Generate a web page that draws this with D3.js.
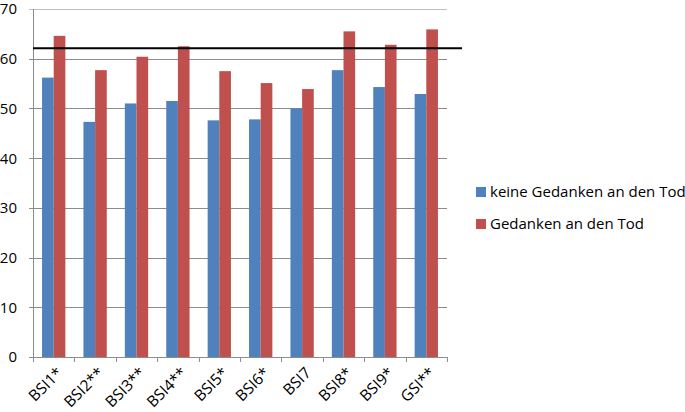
<!DOCTYPE html>
<html>
<head>
<meta charset="utf-8">
<script src="https://cdn.jsdelivr.net/npm/d3@7"></script>
<style>
  body { margin: 0; background: #fff; }
  svg { display: block; font-family: "Open Sans", "Liberation Sans", sans-serif; }
</style>
</head>
<body>
<svg width="685" height="412"></svg>
<script>
var categories = ['BSI1*', 'BSI2**', 'BSI3**', 'BSI4**', 'BSI5*', 'BSI6*', 'BSI7', 'BSI8*', 'BSI9*', 'GSI**'];
var seriesNames = ['keine Gedanken an den Tod', 'Gedanken an den Tod'];
var keineValues = [56.2, 47.3, 51.0, 51.5, 47.6, 47.8, 50.0, 57.7, 54.3, 52.9];
var gedankenValues = [64.6, 57.7, 60.4, 62.5, 57.5, 55.1, 53.9, 65.5, 62.8, 65.9];
var yTicks = [0, 10, 20, 30, 40, 50, 60, 70];
var refValue = 62.1;
var colors = ['#4f81bd', '#c0504d'];

var svg = d3.select('svg');
var margin = { top: 9, left: 33 };
var plotWidth = 414;
var plotHeight = 348;

var plot = svg.append('g')
    .attr('transform', 'translate(' + margin.left + ',' + margin.top + ')');

var xScale = d3.scaleBand()
    .domain(categories)
    .range([0, plotWidth])
    .paddingInner(0.437)
    .paddingOuter(0.2185);

var x1 = d3.scaleBand()
    .domain([0, 1])
    .range([0, xScale.bandwidth()]);

var yScale = d3.scaleLinear()
    .domain([0, 70])
    .range([plotHeight, 0]);

// gridlines
plot.append('g').selectAll('line.grid')
    .data(yTicks)
    .enter()
    .append('line')
    .attr('class', 'grid')
    .attr('x1', -4)
    .attr('x2', plotWidth)
    .attr('y1', function (d) { return Math.round(yScale(d)) + 0.5; })
    .attr('y2', function (d) { return Math.round(yScale(d)) + 0.5; })
    .attr('stroke', function (d) { return d === 70 ? '#c0c0c0' : '#8c8c8c'; })
    .attr('stroke-width', 1);

// bars
var rows = categories.map(function (c, i) {
    return { cat: c, vals: [keineValues[i], gedankenValues[i]] };
});
var groups = plot.selectAll('g.cat')
    .data(rows)
    .enter()
    .append('g')
    .attr('class', 'cat')
    .attr('transform', function (d) { return 'translate(' + xScale(d.cat) + ',0)'; });
groups.selectAll('rect')
    .data(function (d) { return d.vals; })
    .enter()
    .append('rect')
    .attr('x', function (d, j) { return x1(j); })
    .attr('width', x1.bandwidth())
    .attr('y', function (d) { return yScale(d); })
    .attr('height', function (d) { return plotHeight - yScale(d); })
    .attr('fill', function (d, j) { return colors[j]; });

// y axis
plot.append('line')
    .attr('x1', 0.5).attr('x2', 0.5)
    .attr('y1', 0).attr('y2', plotHeight)
    .attr('stroke', '#8c8c8c');
plot.selectAll('text.ytick')
    .data(yTicks)
    .enter()
    .append('text')
    .attr('class', 'ytick')
    .attr('x', -16)
    .attr('y', function (d) { return yScale(d); })
    .attr('dy', '0.36em')
    .attr('text-anchor', 'end')
    .attr('font-size', 15)
    .attr('fill', '#000')
    .text(function (d) { return d; });

// x axis
var xAxis = plot.append('g').attr('transform', 'translate(0,' + plotHeight + ')');
xAxis.append('line')
    .attr('x1', 0).attr('x2', plotWidth)
    .attr('y1', 0.5).attr('y2', 0.5)
    .attr('stroke', '#8c8c8c');
var step = xScale.step();
xAxis.selectAll('line.tick')
    .data(d3.range(categories.length + 1))
    .enter()
    .append('line')
    .attr('class', 'tick')
    .attr('x1', function (i) { return Math.round(i * step) + 0.5; })
    .attr('x2', function (i) { return Math.round(i * step) + 0.5; })
    .attr('y1', 0).attr('y2', 5)
    .attr('stroke', '#8c8c8c');
xAxis.selectAll('text.xlab')
    .data(categories)
    .enter()
    .append('text')
    .attr('class', 'xlab')
    .attr('text-anchor', 'end')
    .attr('font-size', 15.5)
    .attr('transform', function (d) {
        var cx = xScale(d) + xScale.bandwidth() / 2 + 6;
        return 'translate(' + cx + ',13) rotate(-45)';
    })
    .attr('dy', '0.35em')
    .text(function (d) { return d; });

// reference line
plot.append('line')
    .attr('x1', 0)
    .attr('x2', plotWidth + 15)
    .attr('y1', yScale(refValue))
    .attr('y2', yScale(refValue))
    .attr('stroke', '#000')
    .attr('stroke-width', 2);

// legend
var legend = svg.append('g').attr('transform', 'translate(476,192)');
legend.selectAll('g.item')
    .data(seriesNames)
    .enter()
    .append('g')
    .attr('class', 'item')
    .attr('transform', function (d, i) { return 'translate(0,' + (i * 32) + ')'; })
    .each(function (d, i) {
        var g = d3.select(this);
        g.append('rect')
            .attr('x', 0).attr('y', -5)
            .attr('width', 10).attr('height', 10)
            .attr('fill', colors[i]);
        g.append('text')
            .attr('x', 14)
            .attr('dy', '0.35em')
            .attr('font-size', 15)
            .text(d);
    });
</script>
</body>
</html>
